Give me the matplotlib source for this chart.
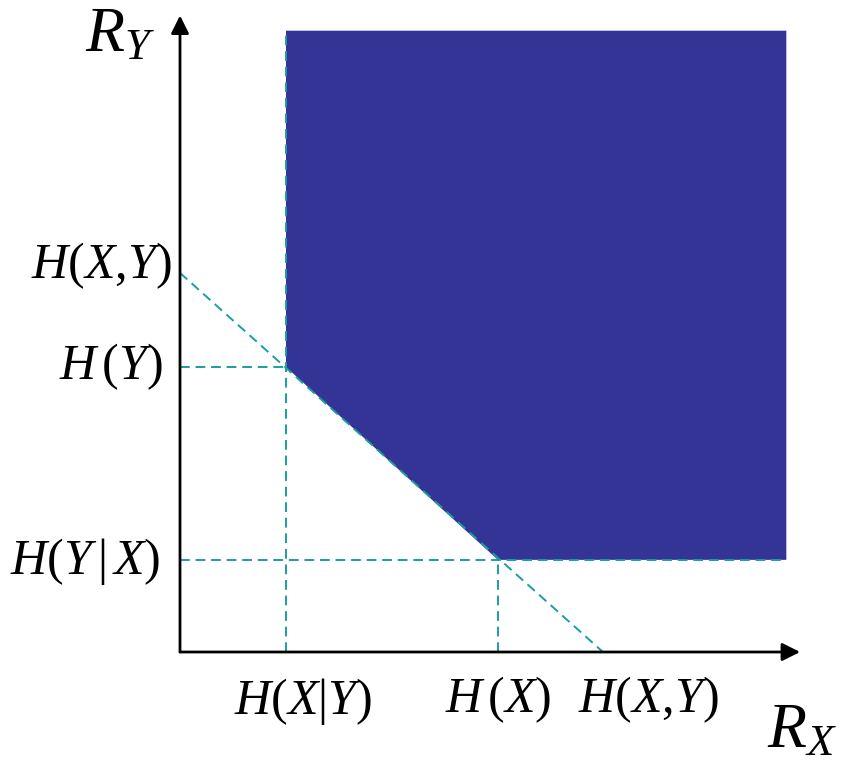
import matplotlib
matplotlib.use('Agg')
import matplotlib.pyplot as plt

plt.rcParams['mathtext.fontset'] = 'custom'
plt.rcParams['mathtext.rm'] = 'Liberation Serif'
plt.rcParams['mathtext.it'] = 'Liberation Serif:italic'
plt.rcParams['font.family'] = 'Liberation Serif'

# entropy values (arbitrary units)
H_X_given_Y = 1.0
H_X = 3.0
H_Y_given_X = 0.97
H_Y = 3.0
H_XY = 3.99

x_max = 5.72   # right edge of achievable region
y_max = 6.54   # top edge of achievable region

teal = '#1a9e9e'
fill_col = '#343497'

fig = plt.figure(figsize=(8.42, 7.64), dpi=100)
ax = fig.add_axes([0, 0, 1, 1])
ax.set_xlim(-180 / 106, (842 - 180) / 106)
ax.set_ylim((652 - 764) / 95, 652 / 95)
ax.axis('off')

# achievable rate region
px = [H_X_given_Y, H_X_given_Y, H_X, x_max, x_max]
py = [y_max, H_Y, H_Y_given_X, H_Y_given_X, y_max]
ax.fill(px, py, color=fill_col, lw=0, zorder=1)

ls = (0, (5, 3))
kw = dict(color=teal, lw=1.4, linestyle=ls, zorder=2)
ax.plot([H_X_given_Y, H_X_given_Y], [0, y_max], **kw)
ax.plot([H_X, H_X], [0, H_Y_given_X], **kw)
ax.plot([0, H_X_given_Y], [H_Y, H_Y], **kw)
ax.plot([0, x_max], [H_Y_given_X, H_Y_given_X], **kw)
ax.plot([0, H_XY], [H_XY * 0.965 + 0.14, 0], **kw)

# axes with arrow heads
arr = dict(arrowstyle='-|>', lw=2, color='k', mutation_scale=27, shrinkA=0, shrinkB=0)
ax.annotate('', xy=(5.85, 0), xytext=(0, 0), arrowprops=arr, zorder=3)
ax.annotate('', xy=(0, 6.7), xytext=(0, 0), arrowprops=arr, zorder=3)

fs = 36
ax.text(-0.075, 4.07, r'$H(X{,}Y)$', fontsize=fs, ha='right', va='center')
ax.text(-0.16, H_Y, r'$H\,(Y)$', fontsize=fs, ha='right', va='center')
ax.text(-0.19, H_Y_given_X - 0.02, r'$H(Y\,|\,X)$', fontsize=fs, ha='right', va='center')

ax.text(H_X_given_Y + 0.16, -0.52, r'$H(X|Y)$', fontsize=fs, ha='center', va='center')
ax.text(H_X, -0.5, r'$H\,(X)$', fontsize=fs, ha='center', va='center')
ax.text(H_XY + 0.43, -0.5, r'$H(X{,}Y)$', fontsize=fs, ha='center', va='center')

ax.text(-0.9, 6.32, r'$R_Y$', fontsize=46, ha='left', va='baseline')
ax.text(5.54, -1.0, r'$R_X$', fontsize=46, ha='left', va='baseline')

fig.savefig('out.png', dpi=100)
